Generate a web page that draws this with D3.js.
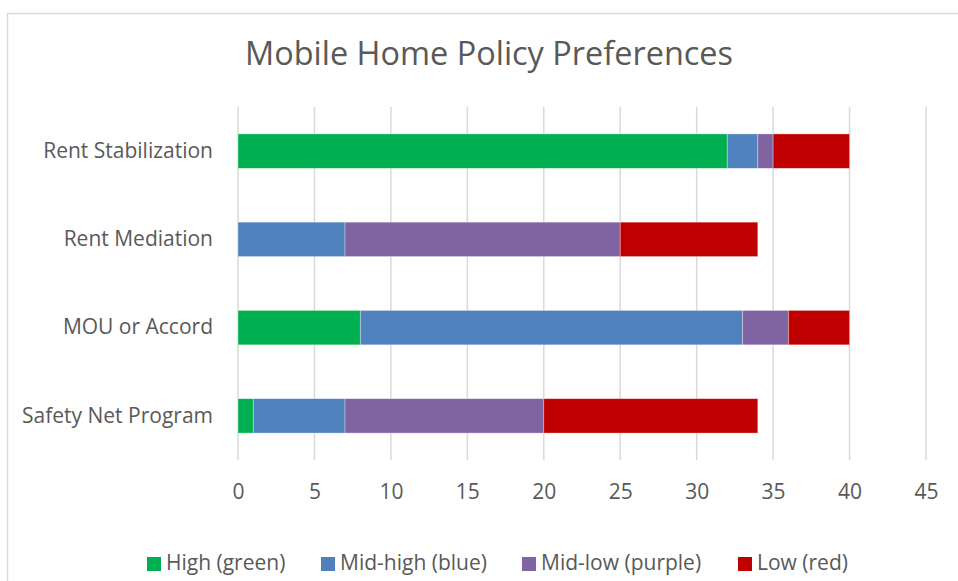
<!DOCTYPE html>
<html>
<head>
<meta charset="utf-8">
<script src="https://cdn.jsdelivr.net/npm/d3@7"></script>
<style>
  body { margin: 0; background: #fff; }
  text { font-family: "Open Sans", sans-serif; fill: #595959; }
</style>
</head>
<body>
<div id="chart"></div>
<script>
// Data
const categories = ['Rent Stabilization', 'Rent Mediation', 'MOU or Accord', 'Safety Net Program']
const seriesNames = ['High (green)', 'Mid-high (blue)', 'Mid-low (purple)', 'Low (red)']
const high = [32, 0, 8, 1]
const midHigh = [2, 7, 25, 6]
const midLow = [1, 18, 3, 13]
const low = [5, 9, 4, 14]
const xTicks = [0, 5, 10, 15, 20, 25, 30, 35, 40, 45]

const colors = ['#00b050', '#4f81bd', '#8064a2', '#c00000']

const WIDTH = 958
const HEIGHT = 581
const PLOT = { left: 238, right: 926, top: 107, bottom: 460 }

const svg = d3.select('#chart')
    .append('svg')
    .attr('width', WIDTH)
    .attr('height', HEIGHT)

// chart border
svg.append('rect')
    .attr('x', 7.5).attr('y', 13.5)
    .attr('width', WIDTH).attr('height', HEIGHT)
    .attr('fill', 'none')
    .attr('stroke', '#d9d9d9')
    .attr('stroke-width', 1.5)

// title
svg.append('text')
    .attr('x', 489).attr('y', 65)
    .attr('text-anchor', 'middle')
    .attr('font-size', 32)
    .attr('textLength', 488)
    .attr('lengthAdjust', 'spacingAndGlyphs')
    .text('Mobile Home Policy Preferences')

// Scales
const xScale = d3.scaleLinear().domain([0, 45]).range([PLOT.left, PLOT.right])
const yScale = d3.scaleBand().domain(categories).range([PLOT.top, PLOT.bottom]).paddingInner(0.61).paddingOuter(0.305)

// gridlines
svg.append('g')
    .selectAll('line')
    .data(xTicks)
    .join('line')
    .attr('x1', d => xScale(d)).attr('x2', d => xScale(d))
    .attr('y1', PLOT.top).attr('y2', PLOT.bottom)
    .attr('stroke', '#d9d9d9')
    .attr('stroke-width', 1.5)

// x axis labels
const xAxis = d3.axisBottom(xScale).tickValues(xTicks).tickSize(0).tickPadding(0)
const gx = svg.append('g')
    .attr('transform', `translate(0, 492)`)
    .call(xAxis)
gx.select('.domain').remove()
gx.selectAll('text')
    .attr('font-size', 21)
    .attr('font-family', '"Open Sans", sans-serif')
    .attr('fill', '#595959')
    .attr('dy', '0.35em')

// y axis labels
const yAxis = d3.axisLeft(yScale).tickSize(0).tickPadding(25)
const gy = svg.append('g')
    .attr('transform', `translate(${PLOT.left}, 0)`)
    .call(yAxis)
gy.select('.domain').remove()
gy.selectAll('text')
    .attr('font-size', 21)
    .attr('font-family', '"Open Sans", sans-serif')
    .attr('fill', '#595959')

// stacked bars
const rows = categories.map((c, i) => ({ category: c, s0: high[i], s1: midHigh[i], s2: midLow[i], s3: low[i] }))
const stack = d3.stack().keys(['s0', 's1', 's2', 's3'])(rows)

svg.append('g')
    .selectAll('g')
    .data(stack)
    .join('g')
    .attr('fill', (d, i) => colors[i])
    .selectAll('rect')
    .data(d => d.filter(v => v[1] - v[0] > 0))
    .join('rect')
    .attr('x', d => xScale(d[0]))
    .attr('y', d => yScale(d.data.category))
    .attr('width', d => xScale(d[1]) - xScale(d[0]))
    .attr('height', yScale.bandwidth())
    .attr('stroke', 'rgba(255,255,255,0.45)')
    .attr('stroke-width', 0.75)

// legend
const legendX = [147, 321, 522, 738]
const legend = svg.append('g')
    .selectAll('g')
    .data(seriesNames)
    .join('g')
    .attr('transform', (d, i) => `translate(${legendX[i]}, 563)`)
legend.append('rect')
    .attr('x', 0).attr('y', -6)
    .attr('width', 14).attr('height', 14)
    .attr('fill', (d, i) => colors[i])
legend.append('text')
    .attr('x', 19).attr('y', 0)
    .attr('dy', '0.35em')
    .attr('font-size', 21)
    .text(d => d)
</script>
</body>
</html>
